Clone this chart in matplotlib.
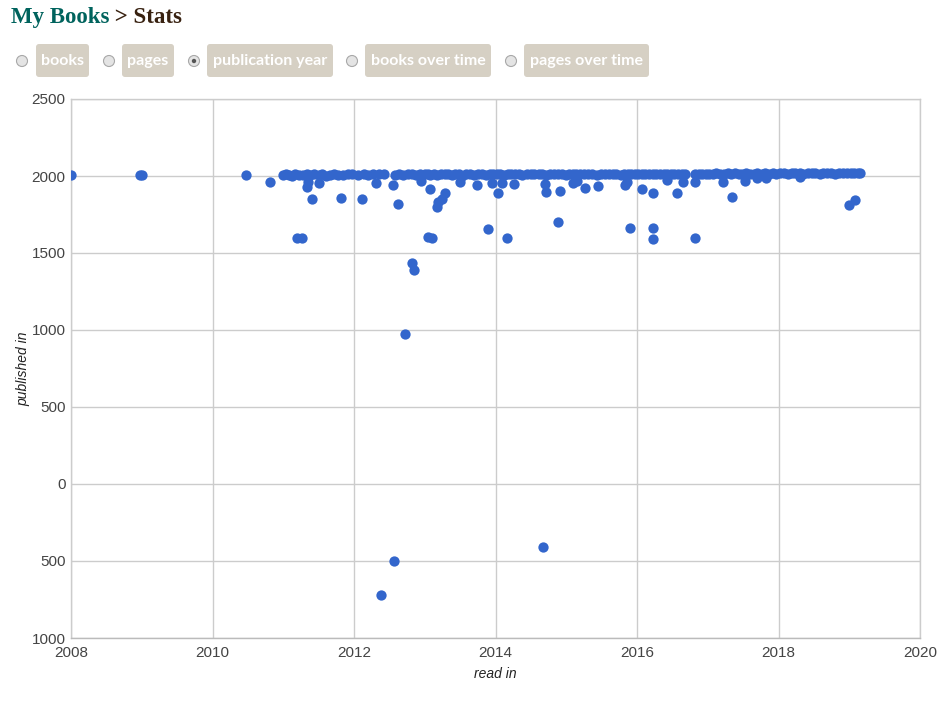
import matplotlib
matplotlib.use("Agg")
import matplotlib.pyplot as plt
from matplotlib.patches import Circle, FancyBboxPatch
from matplotlib.ticker import FuncFormatter, MultipleLocator

# books: year read vs. year the book was published
read_in = [
    # dense band
    2011.00, 2011.04, 2011.08, 2011.12, 2011.17, 2011.22, 2011.28, 2011.33, 2011.38, 2011.44,
    2011.50, 2011.55, 2011.61, 2011.66, 2011.72, 2011.78, 2011.85, 2011.91, 2011.97,
    2012.05, 2012.14, 2012.20, 2012.27, 2012.36, 2012.43, 2012.58, 2012.63, 2012.69, 2012.76,
    2012.82, 2012.88, 2012.93, 2013.00,
    2013.04, 2013.08, 2013.13, 2013.18, 2013.23, 2013.28, 2013.33, 2013.38, 2013.43, 2013.48,
    2013.53, 2013.58, 2013.64, 2013.69, 2013.75, 2013.81, 2013.87, 2013.92, 2013.97,
    2014.02, 2014.07, 2014.12, 2014.17, 2014.22, 2014.28, 2014.33, 2014.38, 2014.44, 2014.50,
    2014.55, 2014.61, 2014.66, 2014.71, 2014.77, 2014.83, 2014.88, 2014.94, 2014.99,
    2015.04, 2015.09, 2015.14, 2015.19, 2015.25, 2015.31, 2015.37, 2015.43, 2015.49, 2015.55,
    2015.60, 2015.66, 2015.71, 2015.77, 2015.82, 2015.87, 2015.92, 2015.97,
    2016.02, 2016.07, 2016.12, 2016.17, 2016.22, 2016.27, 2016.32, 2016.38, 2016.43, 2016.48,
    2016.53, 2016.58, 2016.63, 2016.68, 2016.82, 2016.87, 2016.92, 2016.97,
    2017.02, 2017.07, 2017.12, 2017.17, 2017.23, 2017.28, 2017.33, 2017.38, 2017.44, 2017.49,
    2017.54, 2017.60, 2017.65, 2017.70, 2017.76, 2017.81, 2017.86, 2017.92, 2017.97,
    2018.02, 2018.08, 2018.13, 2018.19, 2018.24, 2018.30, 2018.35, 2018.41, 2018.47, 2018.52,
    2018.58, 2018.63, 2018.69, 2018.74, 2018.80, 2018.86, 2018.91, 2018.97,
    2019.02, 2019.07, 2019.12, 2019.15,
    # older books and early reads
    2008.00, 2008.98, 2009.01, 2010.47, 2010.81,
    2011.19, 2011.27, 2011.34, 2011.35, 2011.40, 2011.50, 2011.82,
    2012.12, 2012.31, 2012.38, 2012.55, 2012.56, 2012.62, 2012.72, 2012.82, 2012.85, 2012.95,
    2013.05, 2013.10, 2013.07, 2013.17, 2013.19, 2013.25, 2013.29, 2013.50, 2013.74, 2013.90, 2013.95,
    2014.04, 2014.09, 2014.16, 2014.26, 2014.67, 2014.70, 2014.72, 2014.89, 2014.91,
    2015.10, 2015.15, 2015.27, 2015.45, 2015.83, 2015.90, 2015.86,
    2016.07, 2016.23, 2016.23, 2016.23, 2016.42, 2016.56, 2016.65, 2016.82, 2016.82,
    2017.22, 2017.34, 2017.52, 2017.69, 2017.83, 2018.30, 2019.00, 2019.08,
]
published_in = [
    2005, 2010, 2008, 2002, 2011, 2009, 2006, 2010, 2004, 2011,
    2007, 2010, 2003, 2009, 2011, 2008, 2005, 2010, 2011,
    2009, 2012, 2006, 2011, 2010, 2012, 2004, 2011, 2008, 2012,
    2010, 2007, 2012, 2011,
    2012, 2009, 2013, 2006, 2011, 2013, 2010, 2008, 2013, 2012,
    2003, 2013, 2011, 2009, 2013, 2012, 2007, 2013, 2010,
    2013, 2014, 2008, 2012, 2014, 2011, 2013, 2005, 2014, 2012,
    2010, 2014, 2013, 2009, 2014, 2011, 2014, 2012, 2007,
    2014, 2015, 2010, 2013, 2015, 2012, 2014, 2008, 2015, 2013,
    2011, 2015, 2014, 2009, 2015, 2012, 2014, 2015,
    2013, 2016, 2011, 2015, 2016, 2010, 2014, 2016, 2012, 2015,
    2016, 2013, 2016, 2014, 2016, 2015, 2012, 2016,
    2016, 2014, 2017, 2015, 2016, 2017, 2013, 2017, 2016, 2015,
    2017, 2016, 2014, 2017, 2016, 2017, 2015, 2017, 2016,
    2017, 2018, 2016, 2018, 2017, 2018, 2015, 2018, 2017, 2018,
    2016, 2018, 2017, 2018, 2016, 2018, 2017, 2018,
    2018, 2019, 2017, 2019,
    2008, 2008, 2009, 2009, 1963,
    1597, 1595, 1927, 1960, 1850, 1957, 1860,
    1850, 1952, -721, 1942, -500, 1816, 974, 1437, 1390, 1969,
    1602, 1597, 1914, 1797, 1834, 1850, 1892, 1961, 1942, 1656, 1952,
    1892, 1952, 1595, 1946, -409, 1946, 1894, 1699, 1903,
    1952, 1965, 1920, 1937, 1942, 1665, 1960,
    1914, 1887, 1665, 1591, 1974, 1892, 1963, 1600, 1963,
    1960, 1866, 1969, 1984, 1984, 1995, 1812, 1846,
]

tabs = ["books", "pages", "publication year", "books over time", "pages over time"]
selected_tab = "publication year"

W, H = 950, 702
fig = plt.figure(figsize=(W / 100, H / 100), dpi=100)
ax = fig.add_axes([71 / W, 1 - 638 / H, (920 - 71) / W, (638 - 99) / H])

grid = "#cccccc"
ax.scatter(read_in, published_in, s=55, color="#3366cc", linewidths=0, zorder=3)
ax.set_xlim(2008, 2020)
ax.set_ylim(-1000, 2500)
ax.xaxis.set_major_locator(MultipleLocator(2))
ax.yaxis.set_major_locator(MultipleLocator(500))
ax.xaxis.set_major_formatter(FuncFormatter(lambda v, p: f"{v:.0f}"))
# the original chart drops the minus sign on negative ticks
ax.yaxis.set_major_formatter(FuncFormatter(lambda v, p: f"{abs(v):.0f}"))
ax.grid(True, color=grid, linewidth=1)
ax.set_axisbelow(True)
for sp in ax.spines.values():
    sp.set_color(grid)
    sp.set_linewidth(1)
ax.spines["bottom"].set_color("#bbbbbb")
ax.tick_params(length=0, labelsize=11, labelcolor="#444444", pad=4,
               labelfontfamily="Liberation Sans")
ax.tick_params(axis="x", pad=6)
ax.set_xlabel("read in", fontstyle="italic", fontsize=10, color="#222222",
              family="Liberation Sans", labelpad=5)
ax.set_ylabel("published in", fontstyle="italic", fontsize=10, color="#222222",
              family="Liberation Sans", labelpad=1)

# page header
t1 = fig.text(11 / W, 1 - 23 / H, "My Books", fontsize=16.5, fontweight="bold",
              family="Liberation Serif", color="#00635d", va="baseline")
ax.annotate(" > Stats", xy=(1, 0), xycoords=t1, va="bottom", ha="left",
            fontsize=16.5, fontweight="bold", family="Liberation Serif",
            color="#382110", annotation_clip=False)

# tab buttons with radio circles (positions in inches, 100 px each)
radio_x = [22, 109, 194, 352, 511]
box_l = [36, 122, 207, 365, 524]
box_r = [89, 174, 333, 491, 649]
for name, rx, bl, br in zip(tabs, radio_x, box_l, box_r):
    fig.add_artist(Circle((rx / 100, (H - 61) / 100), 0.055,
                          transform=fig.dpi_scale_trans, facecolor="#e4e4e4",
                          edgecolor="#a8a8a8", linewidth=0.8))
    if name == selected_tab:
        fig.add_artist(Circle((rx / 100, (H - 61) / 100), 0.022,
                              transform=fig.dpi_scale_trans, facecolor="#555555",
                              edgecolor="none"))
    fig.add_artist(FancyBboxPatch((bl / 100 + 0.03, (H - 77) / 100 + 0.03),
                                  (br - bl) / 100 - 0.06, 0.33 - 0.06,
                                  boxstyle="round,pad=0.03", transform=fig.dpi_scale_trans,
                                  facecolor="#d6d0c4", edgecolor="none"))
    fig.text((bl + br) / 2 / W, 1 - 61 / H, name, ha="center", va="center",
             fontsize=11.5, fontweight="bold", family="Lato", color="white")

fig.savefig("out.png", dpi=100)
